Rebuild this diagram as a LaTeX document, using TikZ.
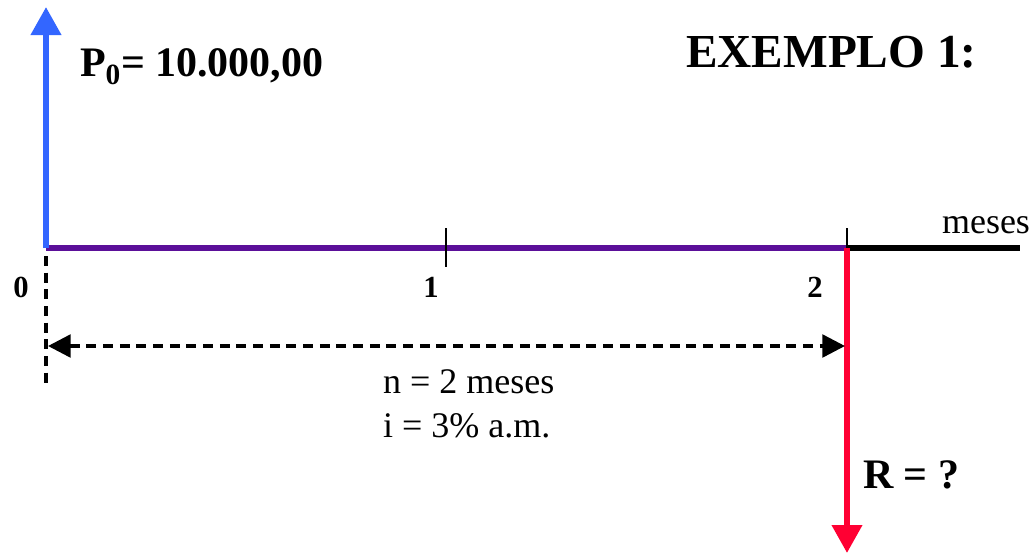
\documentclass[tikz,border=0pt]{standalone}
\usepackage{fontspec}
\setmainfont{Liberation Serif}
\usepackage{xcolor}
\usetikzlibrary{arrows.meta,positioning}
\definecolor{flowblue}{HTML}{3366FF}
\definecolor{flowred}{HTML}{FF0033}
\definecolor{axispurple}{HTML}{5B0F99}

\begin{document}
\begin{tikzpicture}[
  x=0.75pt, y=-0.75pt,
  every node/.style={inner sep=0pt, outer sep=0pt},
  big/.style={font=\fontsize{31.5}{36}\selectfont\bfseries},
  title/.style={font=\fontsize{35.5}{40}\selectfont\bfseries},
  per/.style={font=\fontsize{23}{27}\selectfont\bfseries},
  txt/.style={font=\fontsize{27}{31}\selectfont},
  flow/.style={line width=4.5pt, -{Triangle[length=21pt, width=22pt]}},
  axis/.style={line width=4.5pt},
  tick/.style={line width=1.5pt},
  span/.style={line width=2.6pt, dash pattern=on 7.5pt off 5pt},
  spanarr/.style={span, {Triangle[length=17pt, width=17pt]}-{Triangle[length=17pt, width=17pt]}}
]
\useasboundingbox (0,0) rectangle (1036,554);

% time points
\coordinate (t0) at (46,248);
\coordinate (t1) at (446,248);
\coordinate (t2) at (847,248);
\coordinate (tend) at (1020,248);
\coordinate (ptop) at (46,7);
\coordinate (rbot) at (847,553);
\coordinate (dl) at (48,346);
\coordinate (dr) at (845,346);
\coordinate (v0a) at (46,256);
\coordinate (v0b) at (46,385);

% axis
\draw[axis, axispurple] (t0) -- (t2);
\draw[axis, black] (t2) -- (tend);
\draw[tick] ([yshift=-14]t1) -- ([yshift=15]t1);
\draw[tick] ([yshift=-14]t2) -- ([yshift=15]t2);

% cash flows
\draw[flow, flowblue] (t0) -- (ptop);
\draw[flow, flowred] (t2) -- (rbot);

% period span
\draw[span] (v0a) -- (v0b);
\draw[spanarr] (dl) -- (dr);

% labels
\node[big, anchor=base west] (pzero) at (80,76) {P\textsubscript{0}= 10.000,00};
\node[title, anchor=base west] (ex) at (686,67) {EXEMPLO 1:};
\node[txt, anchor=base west] (unit) at (942,233) {meses};
\node[per, anchor=base] (l0) at (21,297) {0};
\node[per, anchor=base] (l1) at (431,297) {1};
\node[per, anchor=base] (l2) at (815,297) {2};
\node[txt, anchor=base west] (nper) at (383,393) {n = 2 meses};
\node[txt, anchor=base west] (rate) at (383,437) {i = 3\% a.m.};
\node[big, anchor=base west] (rq) at (863,488) {R = ?};
\end{tikzpicture}
\end{document}
